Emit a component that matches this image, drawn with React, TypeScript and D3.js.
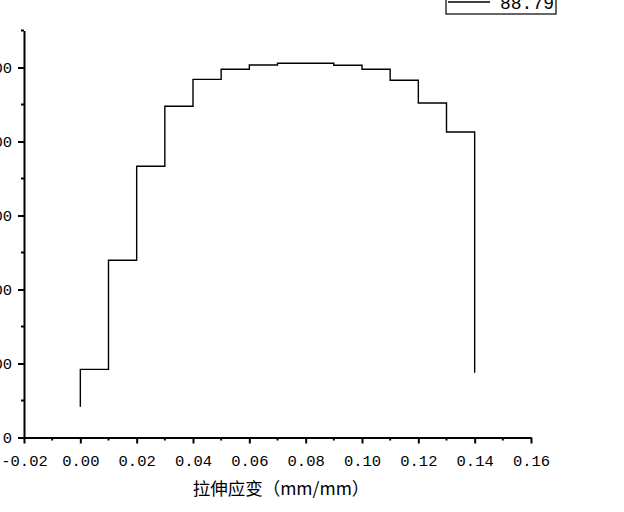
import React, { useEffect, useRef } from 'react';
import * as d3 from 'd3';

// step points (strain in mm/mm, stress)
const strain = [0, 0, 0.01, 0.02, 0.03, 0.04, 0.05, 0.06, 0.07, 0.08, 0.09, 0.10, 0.11, 0.12, 0.13, 0.14, 0.14];
const stress = [41.6, 92, 239.5, 366.5, 447.6, 484, 497.6, 503.4, 505.7, 505.7, 503, 497.6, 482.7, 452, 412.8, 412.8, 87.6];

const xTicks = [-0.02, 0, 0.02, 0.04, 0.06, 0.08, 0.10, 0.12, 0.14, 0.16];
const xMinor = [-0.01, 0.01, 0.03, 0.05, 0.07, 0.09, 0.11, 0.13, 0.15];
const yTicks = [0, 100, 200, 300, 400, 500];
const yMinor = [50, 150, 250, 350, 450, 550];
const legendLabel = '88.79';
const xTitle = '拉伸应变（mm/mm）';

export default function App() {
    const ref = useRef<SVGSVGElement>(null);

    useEffect(() => {
        const svg = d3.select(ref.current);
        svg.selectAll('*').remove();

        const x = d3.scaleLinear().domain([-0.02, 0.16]).range([24, 531]);
        const y = d3.scaleLinear().domain([0, 550]).range([437.5, 30.5]);
        const cjk = '"Noto Sans CJK SC", sans-serif';
        const mono = '"Liberation Mono", "DejaVu Sans Mono", monospace';

        // x axis
        const xa = svg.append('g').attr('transform', 'translate(0,437.5)');
        xa.call(d3.axisBottom(x).tickValues(xTicks).tickSize(6).tickSizeOuter(0)
            .tickFormat((d) => d3.format('.2f')(d as number).replace('−', '-')));
        xa.select('.domain').attr('stroke-width', 2);
        xa.selectAll('.tick line').attr('stroke-width', 2);
        xa.selectAll('.tick text').attr('font-size', 15.5).attr('font-family', mono)
            .attr('dy', 0).attr('y', 28);
        xa.selectAll('line.minor').data(xMinor).enter().append('line')
            .attr('class', 'minor')
            .attr('x1', (d) => x(d)).attr('x2', (d) => x(d))
            .attr('y1', 0).attr('y2', 3)
            .attr('stroke', '#000').attr('stroke-width', 2);

        // y axis
        const ya = svg.append('g').attr('transform', 'translate(24,0)');
        ya.call(d3.axisLeft(y).tickValues(yTicks).tickSize(6).tickSizeOuter(0));
        ya.select('.domain').attr('stroke-width', 2);
        ya.selectAll('.tick line').attr('stroke-width', 2);
        ya.selectAll('.tick text').attr('font-size', 15.5).attr('font-family', mono)
            .attr('x', -12).attr('dy', '0.35em');
        ya.selectAll('line.minor').data(yMinor).enter().append('line')
            .attr('class', 'minor')
            .attr('x1', 0).attr('x2', -3)
            .attr('y1', (d) => y(d)).attr('y2', (d) => y(d))
            .attr('stroke', '#000').attr('stroke-width', 2);

        // x title
        svg.append('text')
            .attr('x', 281).attr('y', 495)
            .attr('text-anchor', 'middle')
            .attr('font-size', 17.5).attr('font-family', cjk)
            .text(xTitle);

        // curve
        const pts = strain.map((s, i) => [s, stress[i]] as [number, number]);
        svg.append('path')
            .datum(pts)
            .attr('fill', 'none')
            .attr('stroke', '#000')
            .attr('stroke-width', 1.4)
            .attr('d', d3.line<[number, number]>()
                .x((d) => x(d[0]))
                .y((d) => y(d[1]))
                .curve(d3.curveStepAfter));

        // legend (cut off at the top)
        const lg = svg.append('g');
        lg.append('rect')
            .attr('x', 446).attr('y', -10).attr('width', 110).attr('height', 24)
            .attr('fill', 'none').attr('stroke', '#000').attr('stroke-width', 1.2);
        lg.append('line')
            .attr('x1', 448).attr('x2', 490).attr('y1', 2).attr('y2', 2)
            .attr('stroke', '#000').attr('stroke-width', 1.4);
        lg.append('text')
            .attr('x', 554).attr('y', 9)
            .attr('text-anchor', 'end')
            .attr('font-size', 18).attr('font-family', mono)
            .text(legendLabel);
    }, []);

    return (
        <svg ref={ref} width={624} height={512}
            style={{ position: 'absolute', left: 0, top: 0, background: '#fff' }} />
    );
}
